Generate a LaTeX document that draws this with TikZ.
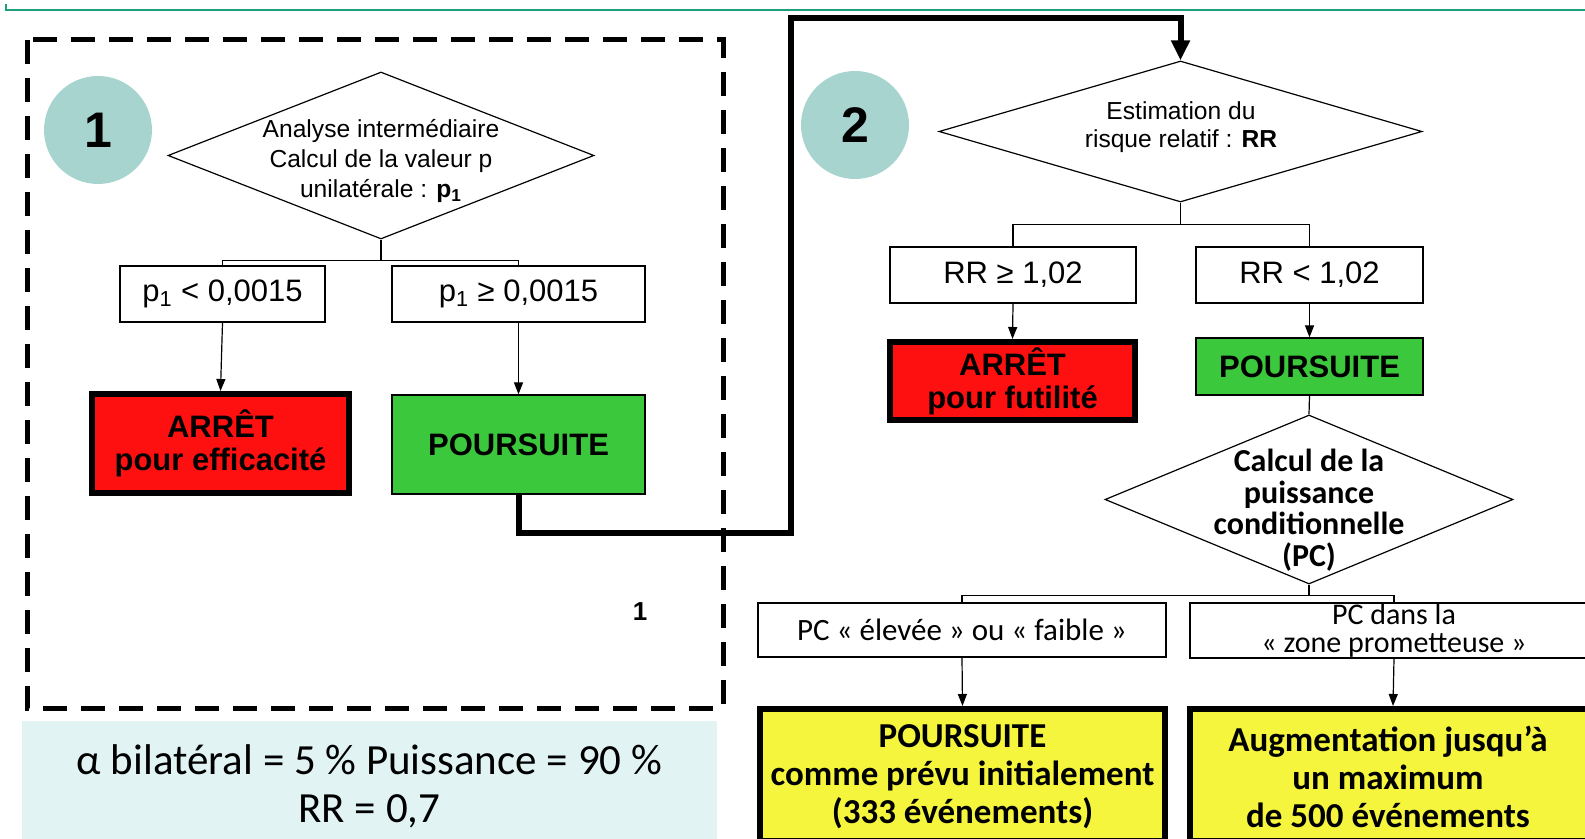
\documentclass[tikz,border=0pt]{standalone}
\usepackage{fontspec}
\setmainfont{Liberation Sans}
\newfontfamily\carlito{Carlito}
\usetikzlibrary{shapes.geometric,arrows.meta,calc}
\definecolor{topline}{HTML}{1F9E80}
\definecolor{numteal}{HTML}{A8D4CF}
\definecolor{stopred}{HTML}{FF1010}
\definecolor{gogreen}{HTML}{3CC83C}
\definecolor{pcyellow}{HTML}{F5F53D}
\definecolor{notebg}{HTML}{E1F3F3}
\begin{document}
\begin{tikzpicture}[x=0.5pt,y=-0.5pt,
  choice/.style={diamond, draw, line width=0.6pt, inner sep=0pt, fill=white},
  choicetext/.style={align=center, inner sep=0pt},
  cond/.style={rectangle, draw, line width=0.6pt, fill=white, inner sep=0pt,
    align=center, font=\fontsize{15.5}{17}\selectfont},
  stopbox/.style={rectangle, draw, line width=3pt, fill=stopred, inner sep=0pt,
    align=center, font=\fontsize{15.5}{16.5}\selectfont\bfseries},
  gobox/.style={rectangle, draw, line width=0.6pt, fill=gogreen, inner sep=0pt,
    align=center, font=\fontsize{15.5}{16.5}\selectfont\bfseries},
  pcbox/.style={rectangle, draw, line width=0.6pt, fill=white, inner sep=0pt,
    align=center, font=\carlito\fontsize{15.5}{13.2}\selectfont},
  endbox/.style={rectangle, draw, line width=3pt, fill=pcyellow, inner sep=0pt},
  endtext/.style={align=center, inner sep=0pt,
    font=\carlito\fontsize{17.5}{19}\selectfont\bfseries},
  stepnum/.style={circle, fill=numteal, minimum size=54pt, inner sep=0pt,
    font=\fontsize{25}{25}\selectfont\bfseries},
  link/.style={line width=0.6pt},
  conn/.style={line width=0.6pt, -{Triangle[length=6pt,width=4.5pt]}},
  bigconn/.style={line width=3pt, line join=miter, -{Triangle[length=10pt,width=9pt]}}
]
\useasboundingbox (0,0) rectangle (1585,839);
\clip (0,0) rectangle (1585,839);

% header rule
\draw[topline, line width=1.2pt] (6,4) -- (6,10) -- (1585,10);

% stage 1 frame
\draw[line width=2.5pt, dash pattern=on 12pt off 7pt] (27,40) rectangle (723,708);

% step markers
\node[stepnum] (n1) at (98,130) {1};
\node[stepnum] (n2) at (855,125) {2};

% ---------- stage 1 ----------
\node[choice, minimum width=213pt, minimum height=83.5pt] (d1) at (381,155.5) {};
\node[choicetext, font=\fontsize{12.3}{15}\selectfont] (d1t) at (381,161)
  {Analyse intermédiaire\\Calcul de la valeur p\\unilatérale : \textbf{p\textsubscript{1}}};

\node[cond, minimum width=102.5pt, minimum height=28pt] (lt1) at (222.5,294)
  {p\textsubscript{1} < 0,0015};
\node[cond, minimum width=126.5pt, minimum height=28pt] (ge1) at (518.5,294)
  {p\textsubscript{1} ≥ 0,0015};

\node[stopbox, minimum width=128.5pt, minimum height=49.5pt] (stop1) at (220.5,443.5)
  {ARRÊT\\pour efficacité};
\node[gobox, minimum width=126.5pt, minimum height=49.5pt] (go1) at (518.5,444.5)
  {POURSUITE};

\draw[link] (d1.south) -- ++(0,21) coordinate (b1);
\draw[link] (b1) -| (lt1.north);
\draw[link] (b1) -| (ge1.north);
\draw[conn] (lt1.south) -- (stop1.north);
\draw[conn] (ge1.south) -- (go1.north);

\node[font=\fontsize{13}{13}\selectfont\bfseries] (stray) at (640,612) {1};

% ---------- stage 2 ----------
\node[choice, minimum width=241.5pt, minimum height=70.5pt] (d2) at (1180.5,131.5) {};
\node[choicetext, font=\fontsize{12.3}{14}\selectfont] (d2t) at (1181,127)
  {Estimation du\\risque relatif : \textbf{RR}};

\coordinate (j1) at (791,533);
\coordinate (j2) at (791,18);
\draw[bigconn] (go1.south) |- (j1) -- (j2) -| (d2.north);

\node[cond, minimum width=123pt, minimum height=28pt] (ge2) at (1013,275) {RR ≥ 1,02};
\node[cond, minimum width=113.5pt, minimum height=28pt] (lt2) at (1309.5,275) {RR < 1,02};

\node[stopbox, minimum width=122.5pt, minimum height=39pt] (stop2) at (1012.5,381)
  {ARRÊT\\pour futilité};
\node[gobox, minimum width=113.5pt, minimum height=28.5pt] (go2) at (1309.5,366.5)
  {POURSUITE};

\draw[link] (d2.south) -- ++(0,22) coordinate (b2);
\draw[link] (b2) -| (ge2.north);
\draw[link] (b2) -| (lt2.north);
\draw[conn] (ge2.south) -- (stop2.north);
\draw[conn] (lt2.south) -- (go2.north);

\node[choice, minimum width=204pt, minimum height=84.5pt] (d3) at (1309,499.5) {};
\node[choicetext, font=\carlito\fontsize{16}{15.75}\selectfont\bfseries] (d3t) at (1309,510)
  {Calcul de la\\puissance\\conditionnelle\\(PC)};
\draw[link] (go2.south) -- (d3.north);

\node[pcbox, minimum width=204pt, minimum height=27pt] (pc1) at (962,630)
  {PC «~élevée~» ou «~faible~»};
\node[pcbox, minimum width=204pt, minimum height=27.5pt,
  font=\carlito\fontsize{15}{13.8}\selectfont] (pc2) at (1394,630.5)
  {PC dans la\\«~zone prometteuse~»};

\draw[link] (d3.south) -- ++(0,11) coordinate (b3);
\draw[link] (b3) -| (pc1.north);
\draw[link] (b3) -| (pc2.north);

\node[endbox, minimum width=202.5pt, minimum height=66pt] (end1) at (962.5,775) {};
\node[endtext] (end1t) at (962.5,777)
  {POURSUITE\\comme prévu initialement\\(333 événements)};
\node[endbox, minimum width=203pt, minimum height=66pt] (end2) at (1393,775) {};
\node[endtext] (end2t) at (1388,777)
  {Augmentation jusqu’à\\un maximum\\de 500 événements};

\draw[conn] (pc1.south) -- (end1.north);
\draw[conn] (pc2.south) -- (end2.north);

% design parameters
\node[rectangle, fill=notebg, minimum width=347.5pt, minimum height=65pt, inner sep=0pt,
  align=center, font=\carlito\fontsize{21.5}{24}\selectfont] (params) at (369.5,786)
  {α bilatéral = 5 \% Puissance = 90 \%\\RR = 0,7};
\end{tikzpicture}
\end{document}
